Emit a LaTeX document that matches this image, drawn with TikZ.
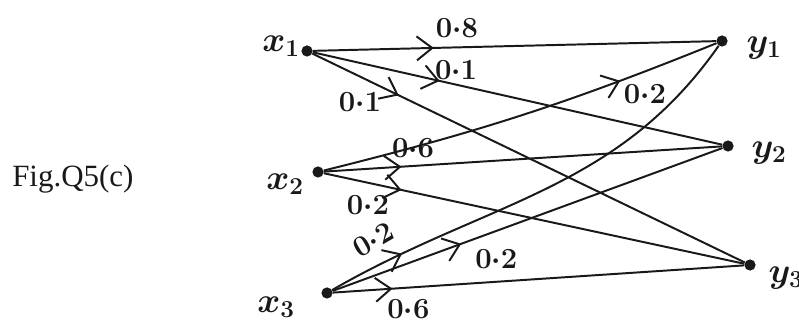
\documentclass[tikz,border=0pt]{standalone}
\usepackage{amsmath}
\usepackage{fontspec}
\newfontfamily\figfont{Liberation Serif}
\usetikzlibrary{arrows.meta,decorations.markings}

\begin{document}
\begin{tikzpicture}[
        x=0.025cm,
        y=0.025cm,
        every node/.style={text=black!90},
        dot/.style={
            circle,
            fill=black!90,
            inner sep=0pt,
            minimum size=2.8mm
        },
        sym/.style={font=\boldmath\fontsize{25}{30}\selectfont},
        prob/.style={font=\boldmath\fontsize{20}{24}\selectfont, inner sep=0pt},
        chan/.style={
            draw=black!90,
            line width=1.4pt,
            decoration={markings,
                mark=at position #1 with {\arrow{Straight Barb[length=11pt,width=17pt]}}},
            postaction={decorate}
        }
    ]
    \useasboundingbox (0,0) rectangle (799,327);

    % Caption
    \node[font=\figfont\fontsize{22}{26}\selectfont, anchor=base west, inner sep=0pt] (fig) at (12,140) {Fig.Q5(c)};

    % Inputs
    \node[dot] (x1) at (307,276) {};
    \node[dot] (x2) at (318,155) {};
    \node[dot] (x3) at (327,34) {};
    \node[sym] (lx1) at (281,281) {$x_1$};
    \node[sym] (lx2) at (285,143) {$x_2$};
    \node[sym] (lx3) at (276,20) {$x_3$};

    % Outputs
    \node[dot] (y1) at (722,286) {};
    \node[dot] (y2) at (728,181) {};
    \node[dot] (y3) at (750,62) {};
    \node[sym] (ly1) at (764,279) {$y_1$};
    \node[sym] (ly2) at (769,174) {$y_2$};
    \node[sym] (ly3) at (786,49) {$y_3$};

    % x1 branch
    \draw[chan=0.30] (x1) -- node[prob, pos=0.357, yshift=14pt] (p11) {$0{\cdot}8$} (y1);
    \draw[chan=0.31] (x1) -- node[prob, pos=0.350, yshift=10pt] (p12) {$0{\cdot}1$} (y2);
    \draw[chan=0.20] (x1) -- node[prob, pos=0.11, yshift=-18pt] (p13) {$0{\cdot}1$} (y3);

    % x2 branch
    \draw[chan=0.75] (x2) to[bend right=4] node[prob, pos=0.83, yshift=-16pt] (p21) {$0{\cdot}2$} (y1);
    \draw[chan=0.195] (x2) -- node[prob, pos=0.224, yshift=13pt] (p22) {$0{\cdot}6$} (y2);
    \draw[chan=0.185] (x2) -- node[prob, pos=0.105, yshift=-16pt] (p23) {$0{\cdot}2$} (y3);

    % x3 branch
    \draw[chan=0.17] (x3) to[out=30, in=235] node[prob, pos=0.09, yshift=20pt, rotate=30] (p31) {$0{\cdot}2$} (y1);
    \draw[chan=0.33] (x3) -- node[prob, pos=0.42, yshift=-20pt] (p32) {$0{\cdot}2$} (y2);
    \draw[chan=0.145] (x3) -- node[prob, pos=0.184, yshift=-15pt] (p33) {$0{\cdot}6$} (y3);

\end{tikzpicture}
\end{document}
